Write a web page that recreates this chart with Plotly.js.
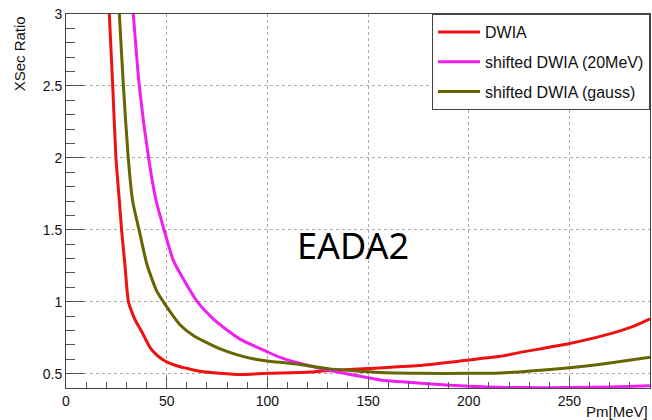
<!DOCTYPE html>
<html>
<head>
<meta charset="utf-8">
<script src="https://cdn.plot.ly/plotly-3.0.1.min.js"></script>
<style>html,body{margin:0;padding:0;background:#fff;}#chart{width:652px;height:420px;}</style>
</head>
<body>
<div id="chart"></div>
<script>
// DWIA
var dwiaX = [20, 21.5, 23.2, 24.8, 26.5, 27.6, 29.3, 31.0, 33.5, 35.0, 37.3, 41.7, 45, 48.3, 52, 56.6, 60, 66.5, 76.5, 86.4, 100, 116, 131, 150, 175, 200, 215.5, 225, 250, 270, 282, 290];
var dwiaY = [3.44, 3.0, 2.5, 2.0, 1.70, 1.5, 1.25, 1.0, 0.9, 0.855, 0.8, 0.683, 0.63, 0.595, 0.57, 0.548, 0.537, 0.516, 0.502, 0.493, 0.502, 0.507, 0.521, 0.535, 0.556, 0.595, 0.62, 0.646, 0.709, 0.776, 0.83, 0.881];
// shifted DWIA (20MeV)
var shiftX = [31, 33.4, 36.4, 41, 44.7, 48.7, 53.3, 58.2, 65.2, 73.1, 79.8, 86.4, 100.5, 106.3, 116, 131, 149, 156, 175, 200, 225, 250, 270, 290];
var shiftY = [3.4, 3.0, 2.5, 2.0, 1.705, 1.5, 1.287, 1.159, 1.0, 0.881, 0.805, 0.74, 0.648, 0.613, 0.572, 0.521, 0.474, 0.456, 0.435, 0.412, 0.403, 0.403, 0.407, 0.416];
// shifted DWIA (gauss)
var gaussX = [25, 26.5, 28.5, 30.9, 33.1, 36.7, 40.1, 44.9, 48.3, 56.6, 63.2, 69.9, 76.5, 86.4, 94.7, 100, 116, 131, 149, 156, 175, 200, 215.5, 225, 250, 270, 290];
var gaussY = [3.375, 3.0, 2.5, 2.0, 1.70, 1.473, 1.264, 1.078, 1.0, 0.84, 0.765, 0.715, 0.672, 0.625, 0.598, 0.588, 0.563, 0.533, 0.514, 0.507, 0.502, 0.502, 0.505, 0.512, 0.54, 0.574, 0.614];

var seriesNames = ['DWIA', 'shifted DWIA (20MeV)', 'shifted DWIA (gauss)'];
var xTicks = [0, 50, 100, 150, 200, 250];
var yTicks = [0.5, 1, 1.5, 2, 2.5, 3];
var yTickText = ['0.5', '1', '1.5', '2', '2.5', '3'];

var colors = ['#ee1111', '#f01ef0', '#666600'];
var xs = [dwiaX, shiftX, gaussX];
var ys = [dwiaY, shiftY, gaussY];

var traces = seriesNames.map(function (n, i) {
  return {
    x: xs[i], y: ys[i], name: n, type: 'scatter', mode: 'lines',
    legendgroup: 'g' + i,
    line: {color: colors[i], width: 3, shape: 'spline', smoothing: 0.6}
  };
});

var tickFont = {family: 'Liberation Sans, Arial, sans-serif', size: 14, color: '#111'};

var layout = {
  width: 652, height: 420,
  margin: {l: 66, r: 2, t: 14, b: 32, pad: 0},
  paper_bgcolor: '#ffffff', plot_bgcolor: '#ffffff',
  showlegend: true,
  legend: {
    x: 1, y: 1, xanchor: 'right', yanchor: 'top',
    bordercolor: '#444', borderwidth: 1, bgcolor: '#ffffff',
    font: {family: 'Liberation Sans, Arial, sans-serif', size: 16, color: '#111'},
    itemwidth: 42, tracegroupgap: 6, traceorder: 'grouped'
  },
  xaxis: {
    range: [0, 290], tickvals: xTicks, ticktext: xTicks.map(String),
    ticks: 'inside', ticklen: 11, tickwidth: 1, tickcolor: '#555',
    showline: true, linecolor: '#444', linewidth: 1, mirror: true,
    showgrid: true, gridcolor: '#aaa', griddash: 'dot', gridwidth: 1,
    zeroline: false, tickfont: tickFont,
    minor: {ticks: 'inside', ticklen: 6, dtick: 10, tick0: 0, tickcolor: '#555', tickwidth: 1, showgrid: false}
  },
  yaxis: {
    range: [0.4, 3], tickvals: yTicks, ticktext: yTickText,
    ticks: 'inside', ticklen: 18, tickwidth: 1, tickcolor: '#555',
    showline: true, linecolor: '#444', linewidth: 1, mirror: true,
    showgrid: true, gridcolor: '#aaa', griddash: 'dot', gridwidth: 1,
    zeroline: false, tickfont: tickFont,
    minor: {ticks: 'inside', ticklen: 9, dtick: 0.1, tick0: 0, tickcolor: '#555', tickwidth: 1, showgrid: false}
  },
  annotations: [
    {text: 'EADA2', xref: 'paper', yref: 'paper', x: 0.491, y: 0.382, xanchor: 'center', yanchor: 'middle',
     showarrow: false, font: {family: 'Noto Sans, Open Sans, sans-serif', size: 36, color: '#000'}},
    {text: 'XSec Ratio', xref: 'paper', yref: 'paper', x: -0.079, y: 1, xanchor: 'center', yanchor: 'top',
     textangle: -90, showarrow: false, font: {family: 'Liberation Sans, Arial, sans-serif', size: 15, color: '#111'}},
    {text: 'Pm[MeV]', xref: 'paper', yref: 'paper', x: 1, y: -0.0615, xanchor: 'right', yanchor: 'middle',
     showarrow: false, font: {family: 'Liberation Sans, Arial, sans-serif', size: 15, color: '#111'}}
  ]
};

Plotly.newPlot('chart', traces, layout, {displayModeBar: false, staticPlot: true});
</script>
</body>
</html>
